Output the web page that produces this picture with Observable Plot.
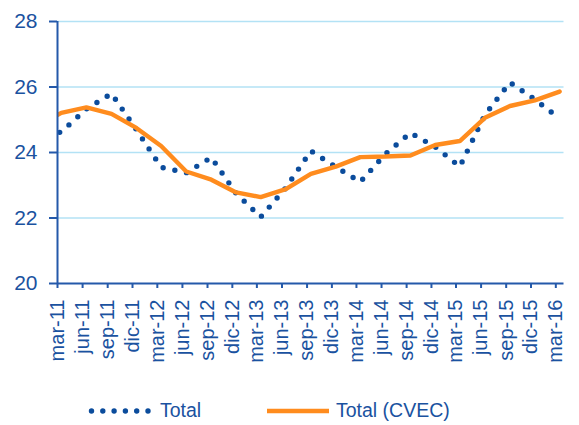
<!DOCTYPE html>
<html>
<head>
<meta charset="utf-8">
<script src="https://cdn.jsdelivr.net/npm/d3@7"></script>
<script src="https://cdn.jsdelivr.net/npm/@observablehq/plot@0.6"></script>
<style>
  html, body { margin: 0; padding: 0; background: #ffffff; }
  #wrap { width: 579px; height: 425px; position: relative; overflow: hidden; font-family: "Liberation Sans", Arial, sans-serif; }
  #legend { position: relative; width: 579px; height: 40px; color: #1a52a0; font-size: 19.5px; }
  #legend .item { position: absolute; top: 14px; line-height: 22px; white-space: nowrap; }
  #legend svg { position: absolute; }
</style>
</head>
<body>
<div id="wrap">
  <div id="chart"></div>
  <div id="legend"></div>
</div>
<script>
// Periods (quarterly); the first one lies just before the visible axis start
const periods = ["dic-10","mar-11","jun-11","sep-11","dic-11","mar-12","jun-12","sep-12","dic-12",
  "mar-13","jun-13","sep-13","dic-13","mar-14","jun-14","sep-14","dic-14",
  "mar-15","jun-15","sep-15","dic-15","mar-16"];
// Series "Total" (dotted)
const total = [24.40, 24.63, 25.33, 25.80, 24.70, 23.55, 23.38, 23.85, 22.75,
  22.03, 22.92, 24.05, 23.56, 23.10, 23.95, 24.60, 24.17,
  23.57, 25.15, 26.14, 25.62, 25.04];
// Series "Total (CVEC)" (solid orange)
const cvec = [24.80, 25.21, 25.38, 25.18, 24.75, 24.20, 23.42, 23.17, 22.78,
  22.64, 22.88, 23.35, 23.57, 23.86, 23.88, 23.91, 24.23,
  24.35, 25.06, 25.42, 25.59, 25.86];
// Axis tick labels
const xTickLabels = periods.slice(1);
const yTicks = [20, 22, 24, 26, 28];
const gridValues = [22, 24, 26, 28];
const seriesNames = ["Total", "Total (CVEC)"];

const textBlue = "#1a52a0";
const axisBlue = "#2459aa";
const dotBlue = "#0b4c9c";
const orange = "#ff8c1e";
const gridBlue = "#b3e2f5";

const monthIndex = {ene:0, feb:1, mar:2, abr:3, may:4, jun:5, jul:6, ago:7, sep:8, oct:9, nov:10, dic:11};
function parsePeriod(p, day) {
  const [m, y] = p.split("-");
  return new Date(Date.UTC(2000 + (+y), monthIndex[m], day));
}

const rows = periods.map((p, i) => ({date: parsePeriod(p, 15), total: total[i], cvec: cvec[i]}));
const tickDates = xTickLabels.map(p => parsePeriod(p, 1));
const labelByTime = new Map(tickDates.map((d, i) => [+d, xTickLabels[i]]));
const xStart = tickDates[0];
const lastTick = tickDates[tickDates.length - 1];
const xEnd = new Date(Date.UTC(lastTick.getUTCFullYear(), lastTick.getUTCMonth() + 1, 0));

const chart = Plot.plot({
  width: 579,
  height: 385,
  marginLeft: 57,
  marginRight: 15.5,
  marginTop: 21,
  marginBottom: 102,
  style: {fontFamily: "'Liberation Sans', Arial, sans-serif", background: "#ffffff", color: textBlue, overflow: "visible"},
  x: {type: "utc", domain: [xStart, xEnd]},
  y: {domain: [yTicks[0], yTicks[yTicks.length - 1]]},
  marks: [
    Plot.ruleY(gridValues, {stroke: gridBlue, strokeWidth: 1.6}),
    Plot.line(rows, {x: "date", y: "total", stroke: dotBlue, strokeWidth: 5.4, strokeLinecap: "round", strokeDasharray: "0 12", clip: true}),
    Plot.line(rows, {x: "date", y: "cvec", stroke: orange, strokeWidth: 4.4, strokeLinejoin: "miter", clip: true}),
    Plot.ruleX([xStart], {stroke: axisBlue, strokeWidth: 2}),
    Plot.ruleY([yTicks[0]], {stroke: axisBlue, strokeWidth: 2}),
    Plot.axisY({ticks: yTicks, tickSize: 8, tickPadding: 12, fontSize: 21, stroke: axisBlue, strokeWidth: 2, fill: textBlue}),
    Plot.axisX({ticks: tickDates, tickFormat: d => labelByTime.get(+d), tickRotate: -90, tickSize: 5, tickPadding: 11, fontSize: 20, stroke: axisBlue, strokeWidth: 2, fill: textBlue})
  ]
});
document.getElementById("chart").appendChild(chart);

// Legend
const legend = document.getElementById("legend");
legend.innerHTML = `
  <svg width="64" height="12" style="left:88px; top:20px;">
    <line x1="3.5" y1="6" x2="60.5" y2="6" stroke="${dotBlue}" stroke-width="5.4" stroke-linecap="round" stroke-dasharray="0 11.3"></line>
  </svg>
  <span class="item" style="left:160px;">${seriesNames[0]}</span>
  <svg width="64" height="12" style="left:266px; top:20px;">
    <line x1="1" y1="6" x2="63" y2="6" stroke="${orange}" stroke-width="4.4"></line>
  </svg>
  <span class="item" style="left:336px;">${seriesNames[1]}</span>
`;
</script>
</body>
</html>
